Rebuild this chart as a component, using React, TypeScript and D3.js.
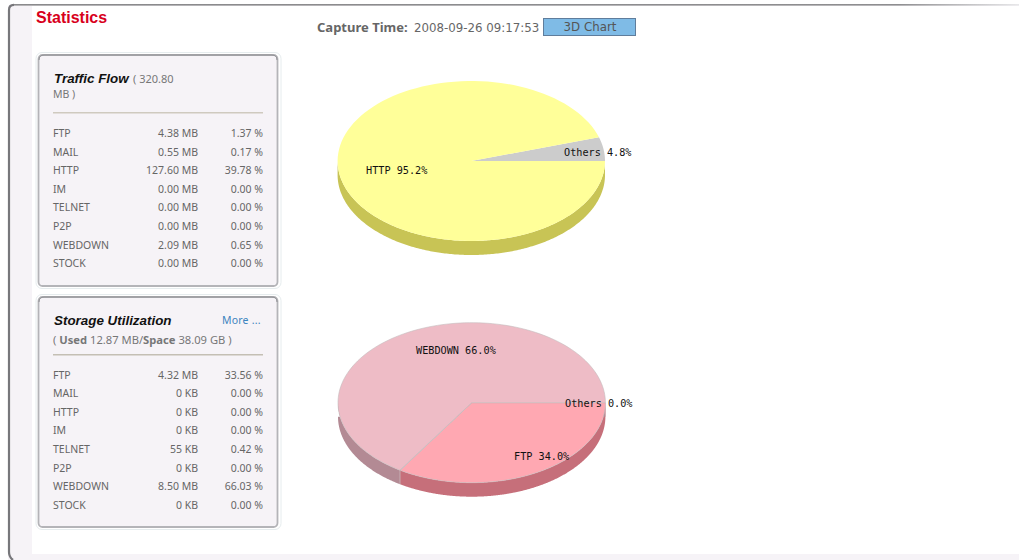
import React from "react";
import * as d3 from "d3";

const W = 1019, H = 560;
const flowRows = ["FTP","MAIL","HTTP","IM","TELNET","P2P","WEBDOWN","STOCK"];
const flowValues = ["4.38 MB","0.55 MB","127.60 MB","0.00 MB","0.00 MB","0.00 MB","2.09 MB","0.00 MB"];
const flowPercents = ["1.37 %","0.17 %","39.78 %","0.00 %","0.00 %","0.00 %","0.65 %","0.00 %"];
const storeValues = ["4.32 MB","0 KB","0 KB","0 KB","55 KB","0 KB","8.50 MB","0 KB"];
const storePercents = ["33.56 %","0.00 %","0.00 %","0.00 %","0.42 %","0.00 %","66.03 %","0.00 %"];

const pie1Labels = ["Others","HTTP"];
const pie1Values = [4.8, 95.2];
const pie1Tops = ["#cccccc","#ffff99"];
const pie1Sides = ["#a3a3a3","#c8c455"];
const pie2Labels = ["FTP","Others","WEBDOWN"];
const pie2Values = [34.0, 0.05, 66.0];
const pie2Tops = ["#ffa8b2","#cccccc","#eebcc6"];
const pie2Sides = ["#c66f7a","#a3a3a3","#b38a94"];

const FONT = "'Noto Sans', sans-serif";
const RX = 133.7, RY = 80, DEPTH = 14;

function Pie3D({ cx, cy, values, tops, sides, stroke, clockwiseFromEast }: any) {
  const pie = d3.pie<number>().sort(null).startAngle(0).endAngle(2 * Math.PI);
  const arcs = pie(values);
  const sign = clockwiseFromEast ? 1 : -1;
  const pt = (a: number, dy = 0): [number, number] => [RX * Math.cos(sign * a), RY * Math.sin(sign * a) + dy];
  const line = d3.line<[number, number]>();
  const sample = (a0: number, a1: number, dy = 0) =>
    d3.range(0, 121).map((i) => pt(a0 + ((a1 - a0) * i) / 120, dy));
  const screenAngle = (a: number) => ((sign * a) % (2 * Math.PI) + 2 * Math.PI) % (2 * Math.PI);
  return (
    <g transform={`translate(${cx},${cy})`}>
      {arcs.map((d, i) => {
        const steps = d3.range(0, 481).map((k) => d.startAngle + ((d.endAngle - d.startAngle) * k) / 480);
        const vis = steps.filter((a) => screenAngle(a) <= Math.PI);
        if (vis.length < 2) return null;
        const upper = vis.map((a) => pt(a));
        const lower = vis.map((a) => pt(a, DEPTH)).reverse();
        return <path key={i} d={line([...upper, ...lower])! + "Z"} fill={sides[i]} />;
      })}
      {arcs.map((d, i) => (
        <path
          key={i}
          d={line([[0, 0], ...sample(d.startAngle, d.endAngle)])! + "Z"}
          fill={tops[i]}
          stroke={stroke || "none"}
          strokeWidth={stroke ? 0.6 : 0}
        />
      ))}
    </g>
  );
}

function Panel({ y, h }: { y: number; h: number }) {
  return (
    <g>
      <rect x={36} y={y - 2.5} width={245} height={h + 5} rx={6} fill="#fff" stroke="#e6ecee" />
      <rect x={38.5} y={y} width={239} height={h} rx={4} fill="#f6f3f7" stroke="#b4b4b8" strokeWidth={1.8} />
      <path d={`M39 ${y + 5} Q39 ${y} 44 ${y} H272 Q277 ${y} 277 ${y + 5}`} fill="none" stroke="#8f8f93" strokeWidth={1} />
    </g>
  );
}

function Rows({ top, values, percents }: { top: number; values: string[]; percents: string[] }) {
  const y = d3.scalePoint<string>().domain(flowRows).range([top, top + 130.2]);
  const style = { fontFamily: FONT, fontSize: 10.5, fill: "#666" } as const;
  return (
    <g>
      {flowRows.map((r, i) => (
        <g key={r} style={style}>
          <text x={53} y={y(r)}>{r}</text>
          <text x={198} y={y(r)} textAnchor="end">{values[i]}</text>
          <text x={263} y={y(r)} textAnchor="end">{percents[i]}</text>
        </g>
      ))}
    </g>
  );
}

const monoStyle = { fontFamily: "'DejaVu Sans Mono', monospace", fontSize: 10.2, fill: "#111" } as const;
const headStyle = { fontFamily: "'Liberation Sans', sans-serif", fontSize: 13.4, fontWeight: 700, fontStyle: "italic", fill: "#111" } as const;

export default function App() {
  return (
    <svg width={W} height={H} style={{ position: "absolute", left: 0, top: 0 }}>
      <defs>
        <linearGradient id="topLine" x1="0" x2="1" y1="0" y2="0">
          <stop offset="0" stopColor="#8a8a8c" />
          <stop offset="0.88" stopColor="#8e8e90" />
          <stop offset="1" stopColor="#e8e8ea" />
        </linearGradient>
      </defs>
      <rect width={W} height={H} fill="#fff" />
      <rect x={8} y={4} width={W} height={H} rx={4} fill="#f6f3f7" />
      <rect x={32} y={6} width={W - 32} height={548} fill="#fff" />
      <rect x={12} y={4} width={W - 12} height={1.6} fill="url(#topLine)" />
      <path d={`M13 ${H} Q9 ${H - 3} 9 ${H - 8} V10 Q9 4.8 14 4.8`} fill="none" stroke="#77777b" strokeWidth={2.2} />

      <text x={36} y={23} style={{ fontFamily: "'Liberation Sans', sans-serif", fontSize: 16, fontWeight: 700, fill: "#d8001c" }}>Statistics</text>

      <text x={317} y={32} style={{ fontFamily: FONT, fontSize: 13, fontWeight: 700, fill: "#666" }}>Capture Time:</text>
      <text x={414} y={32} style={{ fontFamily: "'DejaVu Sans', sans-serif", fontSize: 11.8, fill: "#666" }}>2008-09-26 09:17:53</text>
      <rect x={543.5} y={18.5} width={92} height={17} fill="#7fbbe6" stroke="#5f7d9c" />
      <text x={590} y={31} textAnchor="middle" style={{ fontFamily: "'DejaVu Sans', sans-serif", fontSize: 11.8, fill: "#555" }}>3D Chart</text>

      <Panel y={55} h={231} />
      <text x={54} y={83} style={headStyle}>Traffic Flow</text>
      <text x={133} y={83} style={{ fontFamily: FONT, fontSize: 11, fill: "#777" }}>( 320.80</text>
      <text x={53} y={98} style={{ fontFamily: FONT, fontSize: 10.5, fill: "#777" }}>MB )</text>
      <rect x={53} y={112} width={210} height={1.5} fill="#cfcabf" />
      <Rows top={137} values={flowValues} percents={flowPercents} />

      <Panel y={297} h={230} />
      <text x={54} y={325} style={headStyle}>Storage Utilization</text>
      <text x={222} y={324} style={{ fontFamily: FONT, fontSize: 10.5, letterSpacing: 0.2, fill: "#3d85c0" }}>More ...</text>
      <text x={53} y={344} style={{ fontFamily: FONT, fontSize: 11.2, fill: "#777" }}>
        ( <tspan fontWeight={700}>Used</tspan> 12.87 MB/<tspan fontWeight={700}>Space</tspan> 38.09 GB )
      </text>
      <rect x={53} y={354} width={210} height={1.5} fill="#c4bfb4" />
      <Rows top={378.6} values={storeValues} percents={storePercents} />

      <Pie3D cx={471.3} cy={161} values={pie1Values} tops={pie1Tops} sides={pie1Sides} clockwiseFromEast={false} />
      <text x={564} y={156} style={monoStyle}>{pie1Labels[0]} {pie1Values[0].toFixed(1)}%</text>
      <text x={366} y={174} style={monoStyle}>{pie1Labels[1]} {pie1Values[1].toFixed(1)}%</text>

      <Pie3D cx={471.7} cy={402.7} values={pie2Values} tops={pie2Tops} sides={pie2Sides} stroke="#c4bcbe" clockwiseFromEast={true} />
      <text x={565} y={407} style={monoStyle}>{pie2Labels[1]} 0.0%</text>
      <text x={514} y={460} style={monoStyle}>{pie2Labels[0]} {pie2Values[0].toFixed(1)}%</text>
      <text x={416} y={354} style={monoStyle}>{pie2Labels[2]} {pie2Values[2].toFixed(1)}%</text>
    </svg>
  );
}
